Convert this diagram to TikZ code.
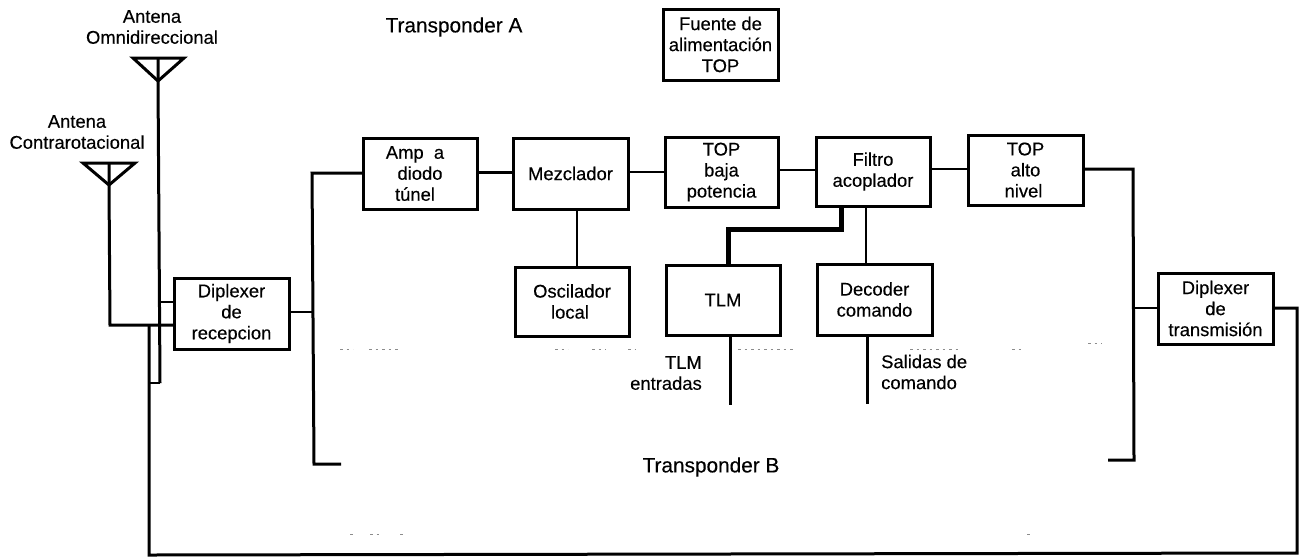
\documentclass[tikz,border=0pt]{standalone}
\usepackage{fontspec}
\setmainfont{Liberation Sans}[FakeBold=0.3]
\begin{document}
\begin{tikzpicture}[x=1pt,y=-1pt,line join=miter,
  wire/.style={draw=black,line width=3pt},
  thin wire/.style={draw=black,line width=2.5pt},
  thick wire/.style={draw=black,line width=5pt},
  blk/.style={draw=black,line width=3pt,fill=white,align=center,inner sep=0pt,outer sep=0pt,
     font=\fontsize{18.4}{21}\selectfont},
  lbl/.style={align=center,inner sep=0pt,font=\fontsize{18.4}{21}\selectfont},
  big/.style={inner sep=0pt,font=\fontsize{20.8}{24}\selectfont},
  speck/.style={draw=black!45,line width=1pt,dash pattern=on 2.5pt off 4pt}]
\useasboundingbox (0,0) rectangle (1300,558);

% junctions and free ends
\coordinate (omniTop) at (158,58);
\coordinate (omniL) at (133,58);
\coordinate (omniR) at (184,58);
\coordinate (omniA) at (158,81);
\coordinate (omniEnd) at (160,383);
\coordinate (omniTap) at (160,302);
\coordinate (contraTop) at (109,163);
\coordinate (contraL) at (83,163);
\coordinate (contraR) at (135,163);
\coordinate (contraA) at (109,185);
\coordinate (contraTurn) at (110,325);
\coordinate (contraTap) at (174,325);
\coordinate (loopTop) at (149,325);
\coordinate (loopEnd) at (149,383);
\coordinate (botL) at (149,555);
\coordinate (botR) at (1297,553);
\coordinate (rightTop) at (1297,308);
\coordinate (busLtop) at (312,173);
\coordinate (busLmid) at (312,312);
\coordinate (busLbot) at (314,464);
\coordinate (busLend) at (341,464);
\coordinate (busRtop) at (1133,169);
\coordinate (busRmid) at (1134,308);
\coordinate (busRbot) at (1134,460);
\coordinate (busRend) at (1108,460);
\coordinate (tlmOut) at (730,405);
\coordinate (decOut) at (867,404);

% blocks
\node[blk,minimum width=115pt,minimum height=71pt] (fuente) at (720.5,44.5) {Fuente de\\alimentación\\TOP};
\node[blk,minimum width=114pt,minimum height=71pt] (amp) at (420,173.5) {Amp\ \ a\hspace*{10pt}\\diodo\hspace*{10pt}\\túnel\hspace*{10pt}};
\node[blk,minimum width=115pt,minimum height=71pt] (mez) at (570.5,173.5) {Mezclador};
\node[blk,minimum width=113pt,minimum height=70pt] (baja) at (721.5,172) {TOP\\baja\\potencia};
\node[blk,minimum width=114pt,minimum height=69pt] (filtro) at (873,171.5) {Filtro\\acoplador};
\node[blk,minimum width=115pt,minimum height=70pt] (alto) at (1025.5,170) {TOP\\alto\\nivel\hspace*{4pt}};
\node[blk,minimum width=114pt,minimum height=69pt] (osc) at (572,301.5) {Oscilador\\local\hspace*{4pt}};
\node[blk,minimum width=114pt,minimum height=70pt] (tlm) at (723,300) {TLM};
\node[blk,minimum width=115pt,minimum height=71pt] (dec) at (874.5,299.5) {Decoder\\comando};
\node[blk,minimum width=115pt,minimum height=71pt] (dirx) at (231.5,313.5) {Diplexer\\de\\recepcion};
\node[blk,minimum width=115pt,minimum height=71pt] (ditx) at (1215.5,308.5) {Diplexer\\de\\transmisión};

% labels
\node[lbl] (lomni) at (152,27) {Antena\\Omnidireccional};
\node[lbl] (lcontra) at (77,132) {Antena\\Contrarotacional};
\node[big] (ta) at (454,27) {Transponder A};
\node[big] (tb) at (711,467) {Transponder B};
\node[lbl,align=right,anchor=east] (ltlm) at (702,373) {TLM\\entradas};
\node[lbl,align=left,anchor=west] (lsal) at (881,372) {Salidas de\\comando};

% antennas
\draw[wire] (omniL) -- (omniR) -- (omniA) -- cycle;
\draw[wire] (omniTop) -- (omniA) -- (omniEnd);
\draw[wire] (contraL) -- (contraR) -- (contraA) -- cycle;
\draw[wire] (contraTop) -- (contraA) -- (contraTurn) -- (contraTap);
\draw[thin wire] (omniTap) -- (omniTap -| dirx.west);
\draw[thin wire] (omniEnd) -- (loopEnd);
\draw[wire] (loopTop) -- (botL) -- (botR) -- (rightTop) -- (ditx.east |- rightTop);

% buses
\draw[wire] (amp.west |- busLtop) -- (busLtop) -- (busLbot) -- (busLend);
\draw[thin wire] (dirx.east |- busLmid) -- (busLmid);
\draw[wire] (alto.east |- busRtop) -- (busRtop) -- (busRbot) -- (busRend);
\draw[thin wire] (busRmid) -- (ditx.west |- busRmid);

% chain
\draw[thin wire] (amp.east |- 0,172.5) -- (mez.west |- 0,172.5);
\draw[thin wire] (mez.east |- 0,172) -- (baja.west);
\draw[thin wire] (baja.east |- 0,170) -- (filtro.west |- 0,170);
\draw[thin wire] (filtro.east |- 0,169) -- (alto.west |- 0,169);
\draw[thin wire] (osc.north -| 577,0) -- (mez.south -| 577,0);
\draw[thick wire] (filtro.south -| 841,0) -- (841,229) -- (728,229) -- (tlm.north -| 728,0);
\draw[thin wire] (filtro.south -| 866,0) -- (dec.north -| 866,0);
\draw[wire] (tlm.south -| tlmOut) -- (tlmOut);
\draw[wire] (dec.south -| decOut) -- (decOut);

% remnants of the dashed enclosure
\draw[speck] (340,349) -- (353,349) (369,349) -- (401,349);
\draw[speck] (555,349) -- (568,349) (592,349) -- (606,349) (628,349) -- (635,349);
\draw[speck] (738,349) -- (796,349);
\draw[speck] (910,349) -- (960,349) (1012,349) -- (1022,349) (1088,343) -- (1102,343);
\draw[speck] (350,534) -- (355,534) (370,534) -- (380,534) (400,534) -- (404,534) (1027,534) -- (1031,534);
\end{tikzpicture}
\end{document}
